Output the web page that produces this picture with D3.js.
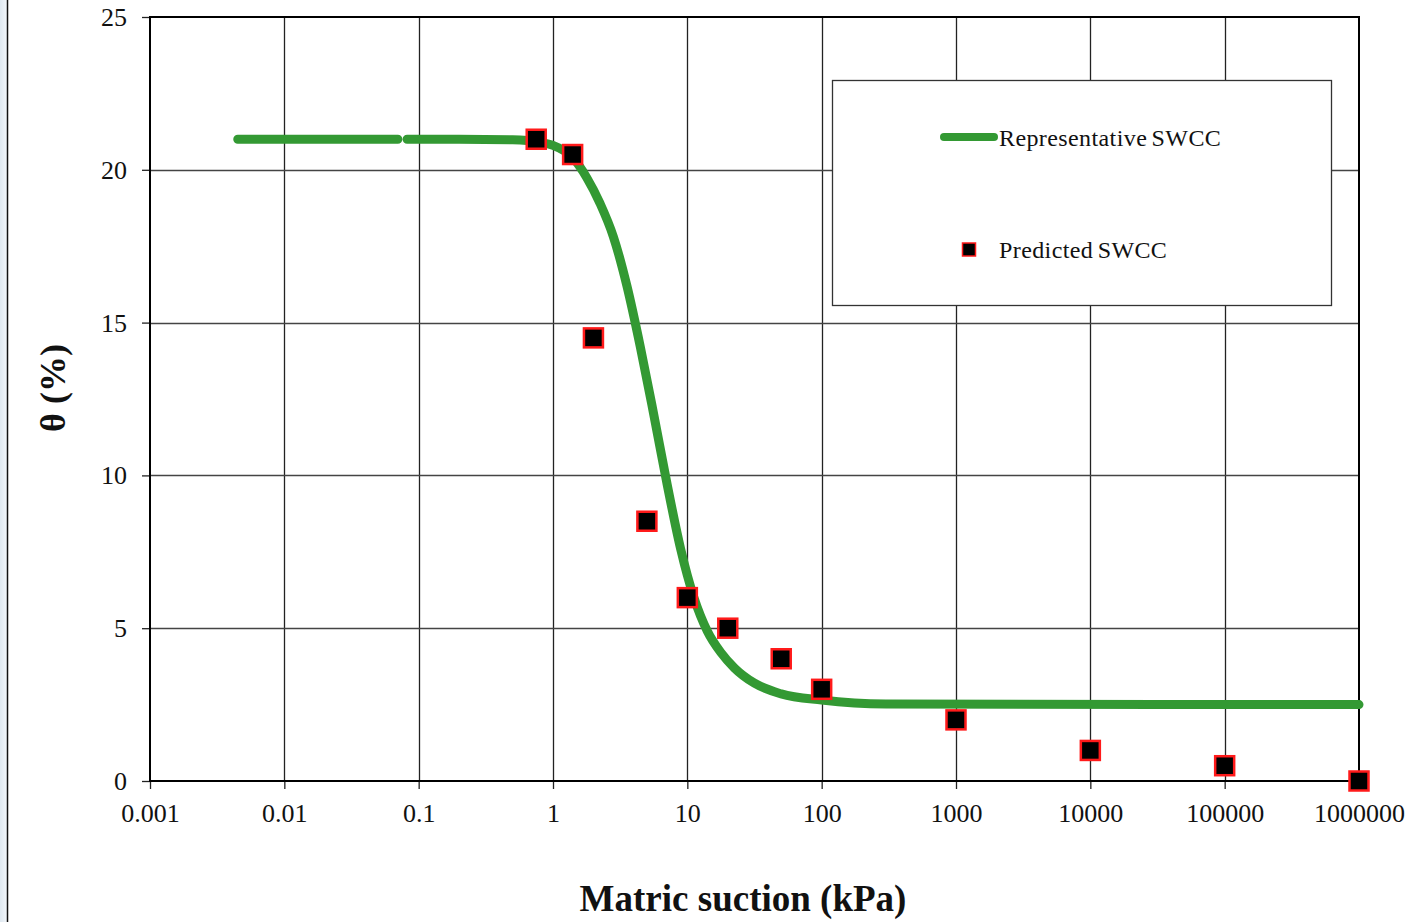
<!DOCTYPE html>
<meta charset="utf-8">
<script src="https://d3js.org/d3.v7.min.js"></script>
<style>
  body { margin: 0; background: #fff; }
  text { font-family: "Liberation Serif", "DejaVu Serif", serif; }
</style>
<div id="chart"></div>
<script>

var width = 1418, height = 922;

// Representative SWCC, null = gap in the line
var curveX = [0.0045, 0.07, null, 0.082, 0.2, 0.5, 0.8, 1.0, 1.4, 1.78, 2.24, 2.82, 3.55, 4.47, 5.62, 7.08, 8.91, 11.2, 14.1, 17.8, 22.4, 31.6, 50, 100, 300, 1000000];
var curveY = [21.0, 21.0, null, 21.0, 21.0, 20.98, 20.9, 20.8, 20.4, 19.75, 18.9, 17.8, 16.2, 14.2, 12.0, 9.7, 7.6, 6.0, 4.9, 4.2, 3.7, 3.2, 2.85, 2.65, 2.52, 2.5];

// Predicted SWCC points
var predX = [0.75, 1.4, 2, 5, 10, 20, 50, 100, 1000, 10000, 100000, 1000000];
var predY = [21, 20.5, 14.5, 8.5, 6, 5, 4, 3, 2, 1, 0.5, 0];

var xTicks = [0.001, 0.01, 0.1, 1, 10, 100, 1000, 10000, 100000, 1000000];
var xTickLabels = ["0.001", "0.01", "0.1", "1", "10", "100", "1000", "10000", "100000", "1000000"];
var yTicks = [0, 5, 10, 15, 20, 25];

var legendItems = ["Representative SWCC", "Predicted SWCC"];

var green = "#339933";

var svg = d3.select("#chart")
  .append("svg")
  .attr("width", width)
  .attr("height", height);

// slide edge on the left
var defs = svg.append("defs");
var grad = defs.append("linearGradient").attr("id", "edge");
grad.append("stop").attr("offset", "0%").attr("stop-color", "#dfe8f0");
grad.append("stop").attr("offset", "100%").attr("stop-color", "#f2f6fa");
svg.append("rect").attr("x", 0).attr("y", 0).attr("width", 7).attr("height", height).attr("fill", "url(#edge)");
svg.append("line").attr("x1", 7.5).attr("x2", 7.5).attr("y1", 0).attr("y2", height)
  .attr("stroke", "#111").attr("stroke-width", 1.5);

var pL = 150, pR = 1359, pT = 17, pB = 781;

var x = d3.scaleLog().domain([0.001, 1000000]).range([pL, pR]);
var y = d3.scaleLinear().domain([0, 25]).range([pB, pT]);

// grid
svg.append("g")
  .selectAll("line")
  .data(xTicks.slice(1, -1))
  .join("line")
  .attr("x1", function(d) { return Math.round(x(d)) + 0.5; })
  .attr("x2", function(d) { return Math.round(x(d)) + 0.5; })
  .attr("y1", pT).attr("y2", pB)
  .attr("stroke", "#222").attr("stroke-width", 1.3);

svg.append("g")
  .selectAll("line")
  .data(yTicks.slice(1, -1))
  .join("line")
  .attr("x1", pL).attr("x2", pR)
  .attr("y1", function(d) { return Math.round(y(d)) + 0.5; })
  .attr("y2", function(d) { return Math.round(y(d)) + 0.5; })
  .attr("stroke", "#444").attr("stroke-width", 1.3);

// axes
var xAxis = d3.axisBottom(x)
  .tickValues(xTicks)
  .tickFormat(function(d, i) { return xTickLabels[i]; })
  .tickSizeInner(8).tickSizeOuter(0);

var yAxis = d3.axisLeft(y)
  .tickValues(yTicks)
  .tickSizeInner(8).tickSizeOuter(0).tickPadding(15);

var gx = svg.append("g").attr("transform", "translate(0," + pB + ")").call(xAxis);
var gy = svg.append("g").attr("transform", "translate(" + pL + ",0)").call(yAxis);

[gx, gy].forEach(function(g) {
  g.select(".domain").remove();
  g.selectAll(".tick line").attr("stroke", "#222").attr("stroke-width", 1.3);
  g.selectAll(".tick text")
    .attr("fill", "#111")
    .style("font-family", "Liberation Serif")
    .style("font-size", "26px");
});
gx.selectAll(".tick text").attr("y", 41).attr("dy", 0);
gy.selectAll(".tick text").attr("dy", "0.33em");

// plot frame
svg.append("rect")
  .attr("x", pL).attr("y", pT)
  .attr("width", pR - pL).attr("height", pB - pT)
  .attr("fill", "none").attr("stroke", "#000").attr("stroke-width", 2);

// representative curve
var curveData = curveX.map(function(d, i) { return { x: d, y: curveY[i] }; });
var line = d3.line()
  .defined(function(d) { return d.x !== null; })
  .x(function(d) { return x(d.x); })
  .y(function(d) { return y(d.y); })
  .curve(d3.curveMonotoneX);

svg.append("path")
  .datum(curveData)
  .attr("d", line)
  .attr("fill", "none")
  .attr("stroke", green)
  .attr("stroke-width", 9)
  .attr("stroke-linecap", "round")
  .attr("stroke-linejoin", "round");

// predicted points
var sq = 19;
svg.append("g")
  .selectAll("rect")
  .data(predX)
  .join("rect")
  .attr("x", function(d) { return x(d) - sq / 2; })
  .attr("y", function(d, i) { return y(predY[i]) - sq / 2; })
  .attr("width", sq).attr("height", sq)
  .attr("fill", "#000")
  .attr("stroke", "#ff1a1a")
  .attr("stroke-width", 2.5);

// legend
var lg = svg.append("g");
lg.append("rect")
  .attr("x", 832.5).attr("y", 80.5).attr("width", 499).attr("height", 225)
  .attr("fill", "#fff").attr("stroke", "#333").attr("stroke-width", 1.3);

lg.append("line")
  .attr("x1", 944).attr("x2", 994).attr("y1", 137).attr("y2", 137)
  .attr("stroke", green).attr("stroke-width", 8).attr("stroke-linecap", "round");
lg.append("rect")
  .attr("x", 962.5).attr("y", 243).attr("width", 13).attr("height", 13)
  .attr("fill", "#000").attr("stroke", "#ff1a1a").attr("stroke-width", 1.5);

lg.selectAll("text")
  .data(legendItems)
  .join("text")
  .attr("x", 999)
  .attr("y", function(d, i) { return i === 0 ? 146 : 258; })
  .attr("fill", "#111")
  .style("font-size", "24px")
  .style("letter-spacing", "0.4px")
  .style("word-spacing", "-2px")
  .text(function(d) { return d; });

// axis titles
svg.append("text")
  .attr("x", 743).attr("y", 911)
  .attr("text-anchor", "middle")
  .style("font-size", "37px")
  .style("font-weight", "bold")
  .attr("fill", "#111")
  .text("Matric suction (kPa)");

svg.append("text")
  .attr("transform", "translate(65,388) rotate(-90)")
  .attr("text-anchor", "middle")
  .style("font-size", "36px")
  .style("font-weight", "bold")
  .attr("fill", "#111")
  .text("θ (%)");

</script>
